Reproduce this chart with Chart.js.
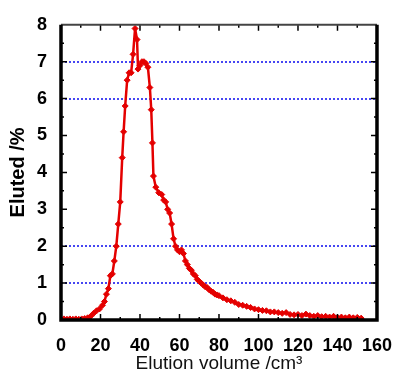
<!DOCTYPE html>
<html>
<head>
<meta charset="utf-8">
<script src="https://cdn.jsdelivr.net/npm/chart.js@4"></script>
<style>
  html, body { margin: 0; padding: 0; background: #fff; }
  #wrap { width: 399px; height: 379px; }
</style>
</head>
<body>
<div id="wrap"><canvas id="elution"></canvas></div>
<script>
// ------------------ Data ------------------
const volumes = [0, 1.5, 3, 4.5, 6, 7.5, 9, 10.5, 12, 13.5, 15, 16.5, 18, 19.5, 21, 22, 23, 24, 25, 26,
  27, 28, 29, 30, 31, 31.7, 32.5, 33.5, 34.5, 35.5, 36.5, 37.5, 38.5, 39, 40, 41, 42, 43, 44, 45,
  45.7, 46.3, 46.8, 48, 49.5, 51, 52, 53, 54, 55, 56, 57, 58, 59, 60, 61, 62, 63, 64, 65,
  66, 67, 68, 69, 70, 71, 72, 73, 74, 75, 76, 77, 78, 79, 80, 82, 84, 86, 88, 90,
  92, 94, 96, 98, 100, 102, 104, 106, 108, 110, 112, 114, 116, 118, 120, 122, 124, 126, 128, 130,
  132, 134, 136, 138, 140, 142, 144, 146, 148, 150, 152];
const eluted = [0.02, 0.03, 0.02, 0.03, 0.02, 0.03, 0.02, 0.03, 0.04, 0.06, 0.1, 0.18, 0.25, 0.3, 0.4, 0.5, 0.7, 0.85, 1.2, 1.25,
  1.6, 2.0, 2.6, 3.2, 4.4, 5.1, 5.8, 6.5, 6.7, 6.7, 7.2, 7.9, 7.6, 6.8, 6.9, 7.0, 7.0, 6.95, 6.85, 6.3,
  5.7, 4.8, 3.9, 3.6, 3.45, 3.4, 3.25, 3.2, 3.0, 2.9, 2.6, 2.2, 2.0, 1.9, 1.85, 1.9, 1.8, 1.6, 1.5, 1.4,
  1.35, 1.25, 1.2, 1.1, 1.05, 1.0, 0.95, 0.9, 0.88, 0.82, 0.78, 0.75, 0.7, 0.68, 0.66, 0.6, 0.55, 0.52, 0.48, 0.42,
  0.4, 0.37, 0.34, 0.3, 0.28, 0.26, 0.25, 0.22, 0.22, 0.2, 0.18, 0.2, 0.15, 0.14, 0.15, 0.12, 0.16, 0.12, 0.1, 0.12,
  0.09, 0.1, 0.08, 0.1, 0.07, 0.08, 0.06, 0.08, 0.06, 0.07, 0.05];
const gridLevels = [1, 2, 6, 7];   // dotted guide lines in the original

const points = volumes.map((v, i) => ({ x: v, y: eluted[i] }));

const font = 'Liberation Sans, Arial, sans-serif';

// ------------------ Frame + inward ticks ------------------
const framePlugin = {
    id: 'frame',
    afterDraw(chart) {
        const { ctx, chartArea: a, scales } = chart;
        ctx.save();
        ctx.strokeStyle = '#000';
        // minor ticks pointing inside
        ctx.lineWidth = 1.5;
        ctx.beginPath();
        for (let v = 10; v < 160; v += 10) {
            const px = scales.x.getPixelForValue(v);
            const len = v % 20 === 0 ? 6 : 3;
            ctx.moveTo(px, a.bottom); ctx.lineTo(px, a.bottom - len);
            ctx.moveTo(px, a.top); ctx.lineTo(px, a.top + len);
        }
        for (let v = 0.5; v < 8; v += 0.5) {
            const py = scales.y.getPixelForValue(v);
            const len = v % 1 === 0 ? 6 : 3;
            ctx.moveTo(a.left, py); ctx.lineTo(a.left + len, py);
            ctx.moveTo(a.right, py); ctx.lineTo(a.right - len, py);
        }
        ctx.stroke();
        // box
        ctx.lineWidth = 2;
        ctx.strokeStyle = '#444';
        ctx.beginPath();
        ctx.moveTo(a.left, a.top); ctx.lineTo(a.right, a.top);
        ctx.stroke();
        ctx.lineWidth = 3.5;
        ctx.strokeStyle = '#000';
        ctx.beginPath();
        ctx.moveTo(a.left, a.top); ctx.lineTo(a.left, a.bottom);
        ctx.lineTo(a.right, a.bottom); ctx.lineTo(a.right, a.top);
        ctx.stroke();
        ctx.restore();
    }
};

// ------------------ Chart ------------------
new Chart(document.getElementById('elution'), {
    type: 'line',
    data: {
        datasets: [{
            data: points,
            borderColor: '#e40000',
            backgroundColor: '#e40000',
            borderWidth: 2.5,
            pointStyle: 'rectRot',
            pointRadius: 3,
            pointBorderWidth: 1,
            tension: 0
        }]
    },
    options: {
        responsive: true,
        maintainAspectRatio: false,
        animation: false,
        layout: { padding: { top: 18, right: 19, left: 0, bottom: 0 } },
        plugins: { legend: { display: false }, tooltip: { enabled: false } },
        scales: {
            x: {
                type: 'linear',
                min: 0, max: 160,
                afterFit(scale) { scale.height = 59; },
                border: { display: false },
                grid: { display: false },
                ticks: {
                    stepSize: 20,
                    color: '#000',
                    padding: 7,
                    maxRotation: 0,
                    font: { family: font, size: 18, weight: 'bold' }
                },
                title: {
                    display: true,
                    text: 'Elution volume /cm³',
                    color: '#111',
                    padding: { top: 5 },
                    font: { family: font, size: 19 }
                }
            },
            y: {
                min: 0, max: 8,
                afterFit(scale) { scale.width = 61; },
                border: { display: false, dash: [2, 2] },
                grid: {
                    drawTicks: false,
                    lineWidth: 2,
                    color: (c) => gridLevels.includes(c.tick.value) ? '#4646f2' : 'rgba(0,0,0,0)'
                },
                ticks: {
                    stepSize: 1,
                    color: '#000',
                    padding: 14,
                    font: { family: font, size: 18, weight: 'bold' }
                },
                title: {
                    display: true,
                    text: 'Eluted /%',
                    color: '#000',
                    padding: { top: 6, bottom: 0 },
                    font: { family: font, size: 20, weight: 'bold' }
                }
            }
        },
        elements: { line: { borderJoinStyle: 'round' } }
    },
    plugins: [framePlugin]
});
</script>
</body>
</html>
